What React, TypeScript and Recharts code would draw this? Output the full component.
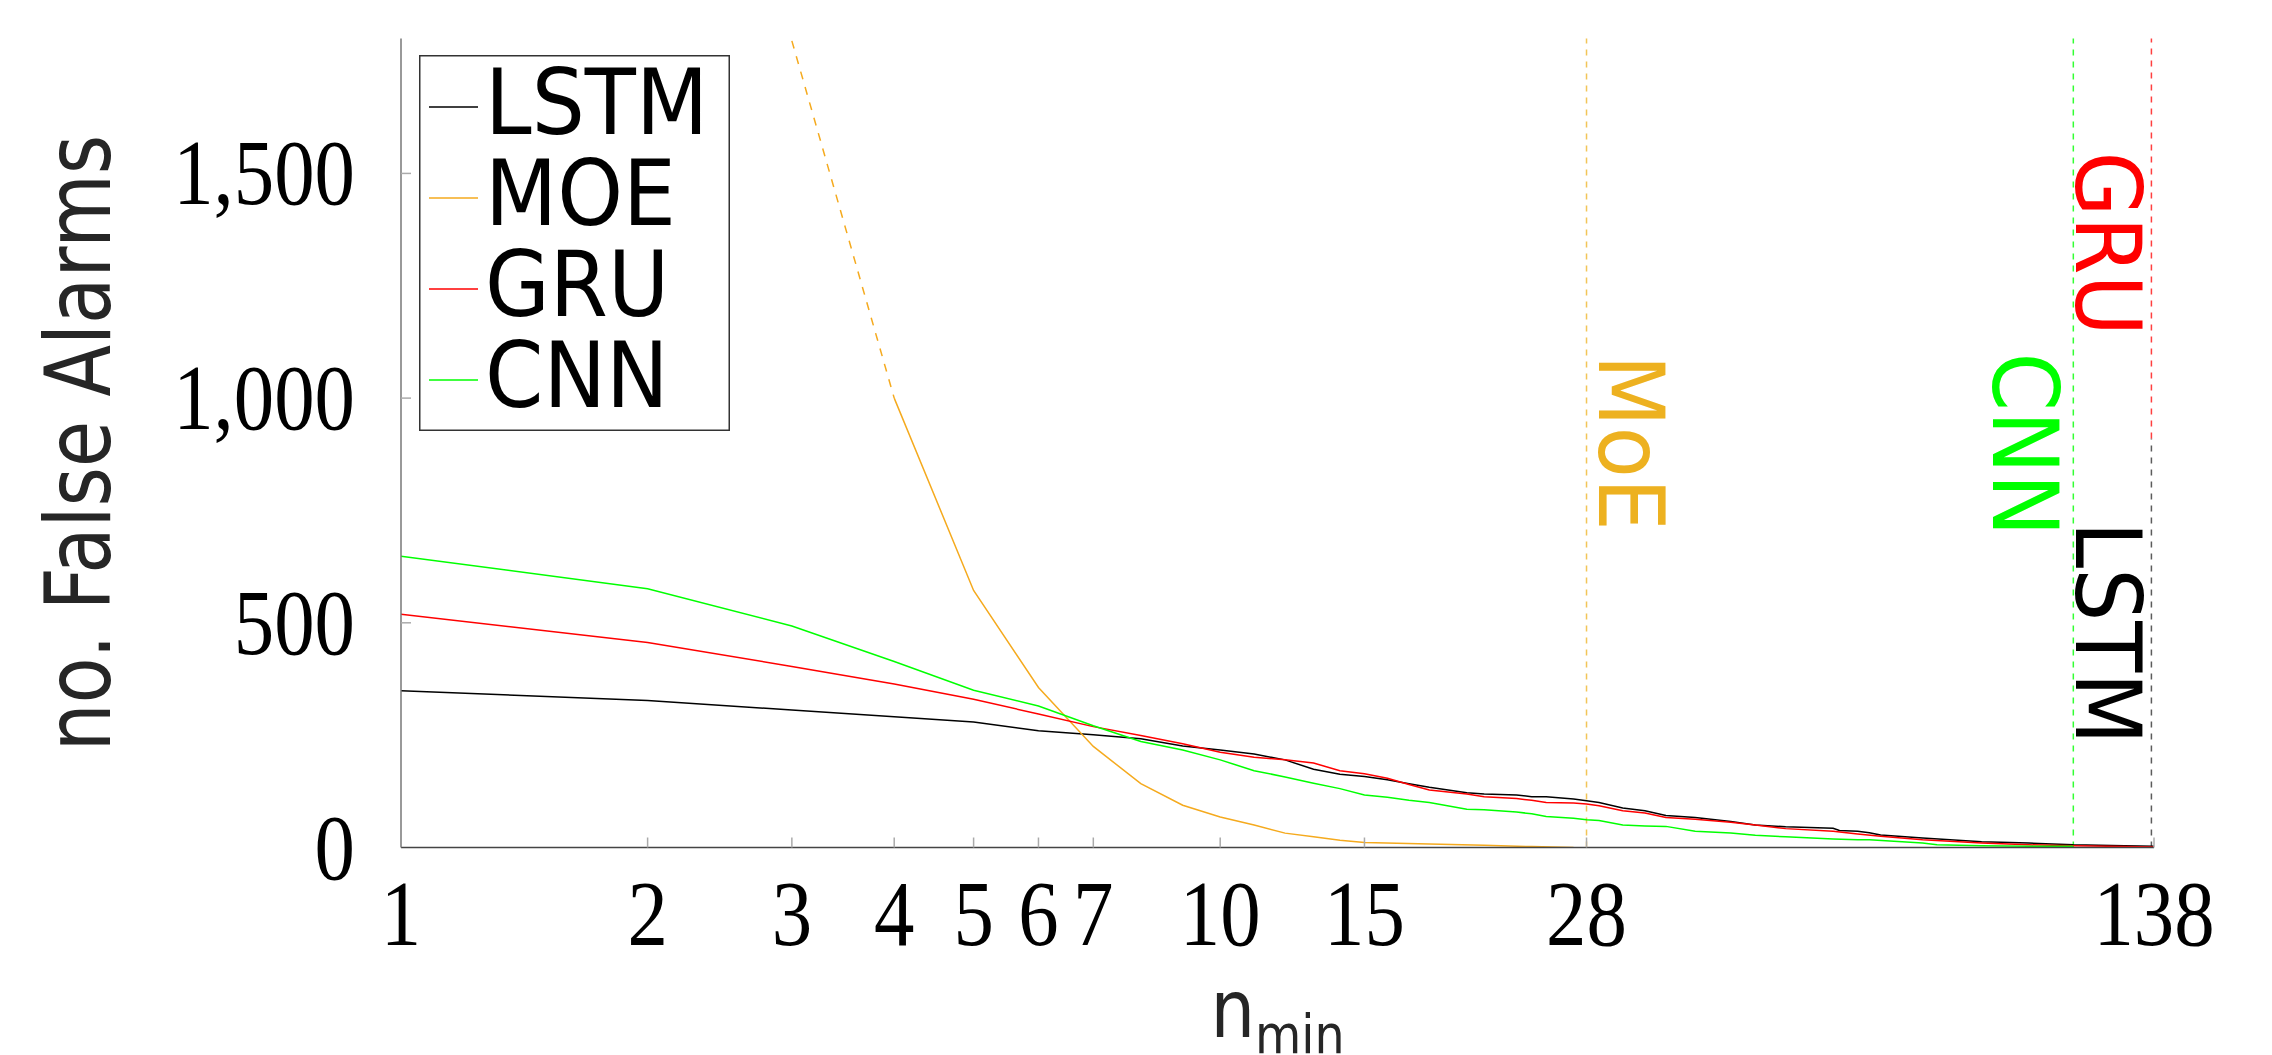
import React from "react";
import { LineChart, Line, XAxis, YAxis, Legend, ReferenceLine } from "recharts";

// x axis: n_min (log scale), y axis: number of false alarms
const xTicks = [1, 2, 3, 4, 5, 6, 7, 10, 15, 28, 138];
const yTicks = [0, 500, 1000, 1500];
const legendOrder = ["LSTM", "MOE", "GRU", "CNN"];

const lstmN = [1, 2, 3, 4, 5, 6, 7, 8, 9, 10, 11, 12, 13, 14, 15, 16, 17, 18, 20, 21, 23, 24, 25, 27, 28, 29, 31, 33, 35, 38, 42, 45, 49, 56, 57, 60, 62, 64, 72, 85, 97, 110, 127, 138];
const lstmAlarms = [349, 327, 306, 291, 279, 260, 251, 242, 226, 217, 208, 195, 174, 163, 158, 151, 142, 134, 122, 119, 117, 113, 113, 108, 104, 100, 88, 82, 71, 67, 58, 50, 46, 43, 38, 36, 33, 28, 21, 13, 10, 6, 4, 3];

const moeN = [4, 5, 6, 7, 8, 9, 10, 11, 12, 13, 14, 15, 18, 21, 24, 27];
const moeAlarms = [1000, 572, 356, 225, 142, 94, 68, 50, 32, 24, 16, 11, 8, 5, 2, 0];
// part of the MoE curve above 1,000 is drawn dashed
const moeHighN = [3, 4];
const moeHighAlarms = [1795, 1000];

const gruN = [1, 2, 3, 4, 5, 6, 7, 8, 9, 10, 11, 12, 13, 14, 15, 16, 17, 18, 20, 21, 23, 24, 25, 27, 28, 29, 31, 33, 35, 38, 42, 45, 49, 56, 60, 64, 72, 85, 97, 110, 127, 138];
const gruAlarms = [519, 456, 403, 364, 330, 297, 269, 249, 231, 212, 201, 195, 188, 171, 164, 154, 140, 128, 119, 113, 109, 105, 100, 99, 97, 93, 82, 77, 67, 63, 56, 50, 42, 36, 30, 25, 17, 10, 6, 4, 2, 1];

const cnnN = [1, 2, 3, 4, 5, 6, 7, 8, 9, 10, 11, 12, 13, 14, 15, 16, 17, 18, 20, 21, 23, 24, 25, 27, 28, 29, 31, 33, 35, 38, 42, 45, 49, 56, 60, 62, 72, 75, 85, 97, 110];
const cnnAlarms = [648, 576, 493, 414, 350, 315, 271, 236, 217, 195, 171, 157, 143, 131, 117, 112, 105, 100, 85, 84, 79, 75, 69, 65, 62, 60, 50, 48, 47, 36, 32, 27, 24, 19, 17, 17, 10, 6, 4, 3, 3];

// n_min where each model's curve ends
const moeCut = 28;
const cnnCut = 110;
const gruCut = 137;
const lstmCut = 137;

const toPoints = (ns: number[], vs: number[]) => ns.map((n, i) => ({ n, alarms: vs[i] }));

const SANS = "'DejaVu Sans', sans-serif";
const SERIF = "'Liberation Serif', serif";
const SQUEEZE = 0.92;

const XTick = (p: any) => {
  const { x, y, payload } = p;
  return (
    <g>
      {payload.value !== 1 && <line x1={x} x2={x} y1={y} y2={y - 10} stroke="#aaa" strokeWidth={1.5} />}
      <text transform={`translate(${x},${y + 97}) scale(0.86,1)`} textAnchor="middle" fontFamily={SERIF} fontSize={94} fill="#000">
        {payload.value}
      </text>
    </g>
  );
};

const YTick = (p: any) => {
  const { x, y, payload } = p;
  return (
    <g>
      {payload.value !== 0 && <line x1={x} x2={x + 10} y1={y} y2={y} stroke="#aaa" strokeWidth={1.5} />}
      <text transform={`translate(${x - 46},${y + 31}) scale(0.86,1)`} textAnchor="end" fontFamily={SERIF} fontSize={94} fill="#000">
        {Number(payload.value).toLocaleString("en-US")}
      </text>
    </g>
  );
};

const YLabel = (p: any) => {
  const vb = p.viewBox;
  const cy = vb.y + vb.height / 2;
  return (
    <text transform={`translate(${vb.x - 191},${cy}) rotate(-90) scale(0.84,1)`} textAnchor="middle" fontFamily={SANS} fontSize={90} fill="#262626">
      no. False Alarms
    </text>
  );
};

const XLabel = (p: any) => {
  const vb = p.viewBox;
  return (
    <text transform={`translate(${vb.x + vb.width / 2},${vb.y + 189}) scale(0.88,1)`} textAnchor="middle" fontFamily={SANS} fill="#262626">
      <tspan fontSize={80}>n</tspan>
      <tspan fontSize={54} dy={16}>min</tspan>
    </text>
  );
};

const vLabel = (text: string, color: string, dx: number, dy: number) => (p: any) => {
  const vb = p.viewBox;
  return (
    <text transform={`translate(${vb.x + dx},${vb.y + dy}) rotate(90) scale(${SQUEEZE},1)`} fontFamily={SANS} fontSize={91} fill={color}>
      {text}
    </text>
  );
};

const LegendBox = (p: any) => {
  const items = (p.payload || [])
    .filter((e: any) => legendOrder.includes(e.value))
    .sort((a: any, b: any) => legendOrder.indexOf(a.value) - legendOrder.indexOf(b.value));
  return (
    <svg width={311} height={376} style={{ display: "block" }}>
      <rect x={0.75} y={0.75} width={309.5} height={374.5} fill="#fff" stroke="#333" strokeWidth={1.5} />
      {items.map((e: any, i: number) => (
        <g key={e.value}>
          <line x1={10} x2={59} y1={52 + i * 91} y2={52 + i * 91} stroke={e.color} strokeWidth={1.5} />
          <text transform={`translate(66,${79 + i * 91}) scale(${SQUEEZE},1)`} fontFamily={SANS} fontSize={91} fill="#000">
            {e.value}
          </text>
        </g>
      ))}
    </svg>
  );
};

export default function App() {
  return (
    <LineChart width={2256} height={1047} margin={{ top: 30.6, right: 110, bottom: 7.5, left: 293 }}>
      <XAxis
        dataKey="n"
        type="number"
        scale="log"
        domain={[1, 138]}
        ticks={xTicks}
        interval={0}
        allowDataOverflow
        height={200}
        tickLine={false}
        tickSize={0}
        tickMargin={0}
        tick={XTick}
        axisLine={{ stroke: "#444", strokeWidth: 1.5 }}
        label={XLabel}
      />
      <YAxis
        type="number"
        domain={[0, 1800]}
        ticks={yTicks}
        interval={0}
        allowDataOverflow
        width={100}
        tickLine={false}
        tickSize={0}
        tickMargin={0}
        tick={YTick}
        axisLine={{ stroke: "#777", strokeWidth: 1.5 }}
        label={YLabel}
      />
      <ReferenceLine x={moeCut} stroke="#EDB120" strokeOpacity={0.75} strokeWidth={1.5} strokeDasharray="6 6" label={vLabel("MoE", "#EDB120", 12, 316)} />
      <ReferenceLine x={cnnCut} stroke="#00FF00" strokeOpacity={0.8} strokeWidth={1.5} strokeDasharray="6 6" label={vLabel("CNN", "#00FF00", -80, 314)} />
      <ReferenceLine segment={[{ x: lstmCut, y: 0 }, { x: lstmCut, y: 910 }]} stroke="#333" strokeOpacity={0.8} strokeWidth={1.5} strokeDasharray="6 6" label={vLabel("LSTM", "#000", -75, 83)} />
      <ReferenceLine segment={[{ x: gruCut, y: 910 }, { x: gruCut, y: 1800 }]} stroke="#FF0000" strokeOpacity={0.75} strokeWidth={1.5} strokeDasharray="6 6" label={vLabel("GRU", "#FF0000", -75, 113)} />
      <Line data={toPoints(lstmN, lstmAlarms)} dataKey="alarms" name="LSTM" stroke="#000" strokeWidth={1.5} dot={false} activeDot={false} isAnimationActive={false} />
      <Line data={toPoints(moeN, moeAlarms)} dataKey="alarms" name="MOE" stroke="#F5AA1E" strokeWidth={1.5} dot={false} activeDot={false} isAnimationActive={false} />
      <Line data={toPoints(gruN, gruAlarms)} dataKey="alarms" name="GRU" stroke="#FF0000" strokeWidth={1.5} dot={false} activeDot={false} isAnimationActive={false} />
      <Line data={toPoints(cnnN, cnnAlarms)} dataKey="alarms" name="CNN" stroke="#00FF00" strokeWidth={1.5} dot={false} activeDot={false} isAnimationActive={false} />
      <Line data={toPoints(moeHighN, moeHighAlarms)} dataKey="alarms" name="MOE high" legendType="none" stroke="#F5AA1E" strokeWidth={1.5} strokeDasharray="8 8" dot={false} activeDot={false} isAnimationActive={false} />
      <Legend layout="vertical" verticalAlign="middle" align="center" content={LegendBox} wrapperStyle={{ left: 411, top: 47, width: 311, height: 376 }} />
    </LineChart>
  );
}
